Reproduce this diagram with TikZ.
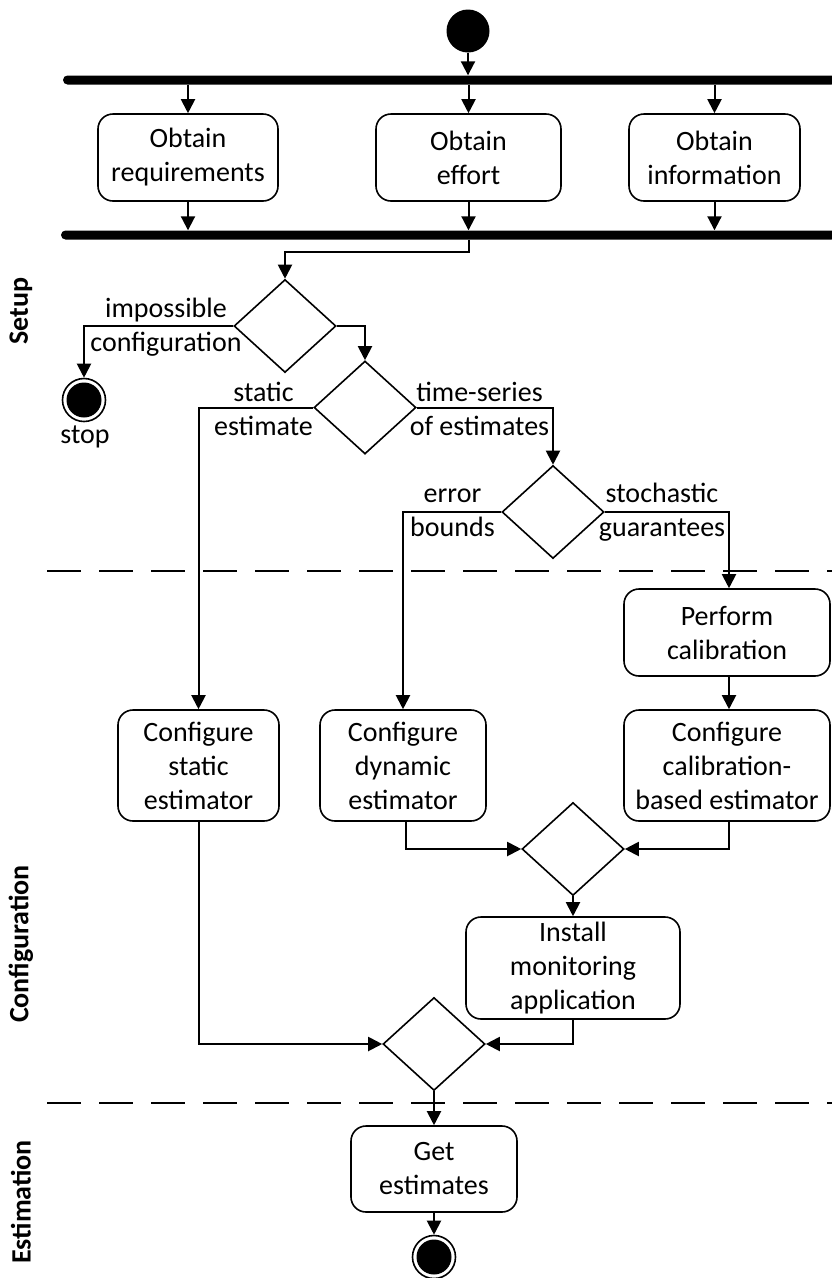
\documentclass[tikz,border=0pt]{standalone}
\usepackage{fontspec}
\setmainfont{Carlito}
\usetikzlibrary{
    shapes.geometric,
    arrows.meta,
    positioning,
    calc,
}

\tikzset{
    action/.style={rectangle, rounded corners=15pt, draw, line width=1.6pt, align=center, inner sep=0pt},
    decision/.style={diamond, draw, line width=1.6pt, minimum width=102pt, minimum height=93pt, inner sep=0pt},
    syncbar/.style={rectangle, fill, rounded corners=4.5pt, minimum height=9pt, inner sep=0pt},
    flow/.style={line width=2pt, -{Triangle[length=14pt,width=14pt]}},
    guard/.style={align=center, inner sep=0pt},
    lane/.style={rotate=90, font=\fontsize{28}{34}\selectfont\bfseries, inner sep=0pt},
    startdot/.style={circle, fill, minimum size=43pt, inner sep=0pt},
    enddot/.style={circle, draw, line width=1.6pt, minimum size=43pt, inner sep=0pt,
        path picture={\fill (path picture bounding box.center) circle (17.5pt);}},
    divider/.style={line width=2pt, dash pattern=on 34pt off 18pt},
}

\begin{document}
\begin{tikzpicture}[x=1pt, y=-1pt, font=\fontsize{28}{34}\selectfont]
    \useasboundingbox (0,0) rectangle (832,1278);

    % setup
    \node[startdot] (start) at (468,31) {};
    \node[syncbar, minimum width=773pt] (fork) at (449.5,80) {};
    \node[action, minimum width=180pt, minimum height=87pt] (req) at (188,157.5) {Obtain\\requirements};
    \node[action, minimum width=185pt, minimum height=87pt] (eff) at (468.5,157.5) {Obtain\\effort};
    \node[action, minimum width=171pt, minimum height=87pt] (inf) at (714.5,157.5) {Obtain\\information};
    \node[syncbar, minimum width=775pt] (join) at (448.5,235) {};

    \node[decision] (d1) at (285,326) {};
    \node[decision] (d2) at (365,407.5) {};
    \node[decision] (d3) at (553,512) {};
    \node[enddot] (stop) at (84,400) {};
    \node[guard] (stoplbl) at (85,437) {stop};

    \node[guard] (g1) at (166,327) {impossible\\configuration};
    \node[guard] (g2) at (263.5,408.5) {static\\estimate};
    \node[guard] (g3) at (479.5,408.5) {time-series\\of estimates};
    \node[guard] (g4) at (452.5,512.5) {error\\bounds};
    \node[guard] (g5) at (662,512.5) {stochastic\\guarantees};

    % configuration
    \node[action, minimum width=206pt, minimum height=87pt] (cal) at (727,632.5) {Perform\\calibration};
    \node[action, minimum width=161pt, minimum height=111pt] (cs) at (198.5,765.5) {Configure\\static\\estimator};
    \node[action, minimum width=166pt, minimum height=111pt] (cd) at (403,765.5) {Configure\\dynamic\\estimator};
    \node[action, minimum width=206pt, minimum height=111pt] (cb) at (727,765.5) {Configure\\calibration-\\based estimator};
    \node[decision] (m1) at (573,849) {};
    \node[action, minimum width=214pt, minimum height=102pt] (inst) at (573,968) {Install\\monitoring\\application};
    \node[decision] (m2) at (434,1044) {};

    % estimation
    \node[action, minimum width=166pt, minimum height=86pt] (get) at (434,1169) {Get\\estimates};
    \node[enddot] (end) at (434,1257) {};

    \node[lane] (setup) at (21,311) {Setup};
    \node[lane] (config) at (21,944) {Configuration};
    \node[lane] (estim) at (21,1202) {Estimation};

    \draw[divider] (47,571) -- (832,571);
    \draw[divider] (47,1103) -- (832,1103);

    \draw[flow] (start) -- (start |- fork.north);
    \foreach \n in {req, eff, inf} {
        \draw[flow] (\n |- fork.south) -- (\n);
        \draw[flow] (\n) -- (\n |- join.north);
    }
    \draw[flow] (eff |- join.south) -- ++(0,12) -| (d1.north);
    \draw[flow] (d1.west) -| (stop.north);
    \draw[flow] (d1.east) -| (d2.north);
    \draw[flow] (d2.west) -| (cs.north);
    \draw[flow] (d2.east) -| (d3.north);
    \draw[flow] (d3.west) -| (cd.north);
    \draw[flow] (d3.east) -| ([xshift=2pt]cal.north);
    \draw[flow] ([xshift=2pt]cal.south) -- ([xshift=2pt]cb.north);
    \draw[flow] ([xshift=3pt]cd.south) |- (m1.west);
    \draw[flow] ([xshift=2pt]cb.south) |- (m1.east);
    \draw[flow] (m1.south) -- (inst.north);
    \draw[flow] (inst.south) |- (m2.east);
    \draw[flow] (cs.south) |- (m2.west);
    \draw[flow] (m2.south) -- (get.north);
    \draw[flow] (get.south) -- (end.north);
\end{tikzpicture}
\end{document}
